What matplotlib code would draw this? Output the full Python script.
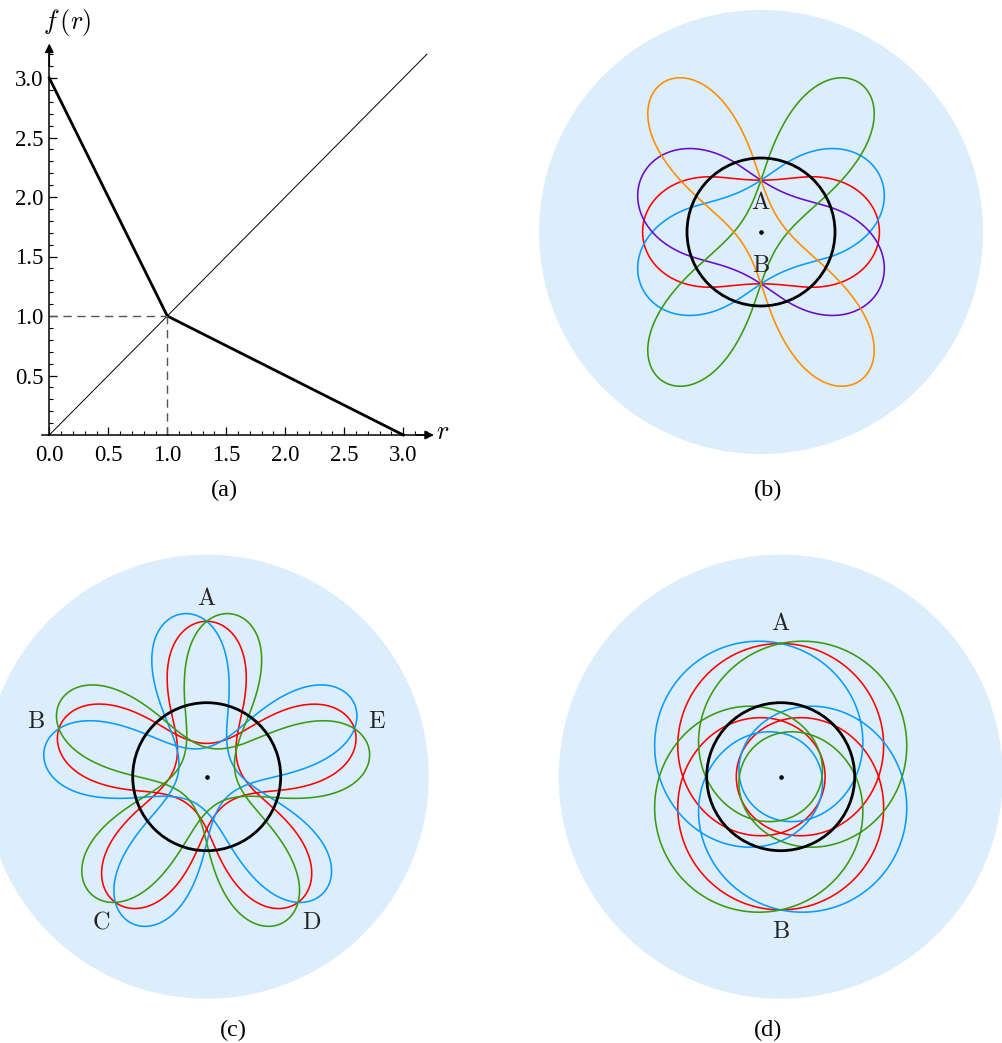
import math
import matplotlib
matplotlib.use("Agg")
import matplotlib.pyplot as plt
from matplotlib.patches import Circle
from matplotlib.ticker import FixedLocator

W, H, DPI = 1002, 1043, 100
plt.rcParams['mathtext.fontset'] = 'cm'

# ---------------- panel (a): the turning-radius map f(r) ----------------
f_r = [0.0, 1.0, 3.0]          # breakpoints of f
f_val = [3.0, 1.0, 0.0]        # f at the breakpoints
diag_end = 3.2                 # end of the line f(r) = r
fixed_point = 1.0              # f(1) = 1
x_major = [0.0, 0.5, 1.0, 1.5, 2.0, 2.5, 3.0]
y_major = [0.5, 1.0, 1.5, 2.0, 2.5, 3.0]
x_labels = ["0.0", "0.5", "1.0", "1.5", "2.0", "2.5", "3.0"]
y_labels = ["0.5", "1.0", "1.5", "2.0", "2.5", "3.0"]

# ---------------- ray families ----------------
# apsidal angle as a fraction (p, q) of pi, source radius on the +y axis,
# slope angles (deg) of the rays at the source, colours
disk_radius = 3.0
RED, BLUE, GREEN = '#FF0000', '#0A9BFF', '#3A9912'
ORANGE, PURPLE = '#FF8C00', '#6A0AC8'

b_apsis = (1, 2)
b_source = 0.7
b_slopes = [0.0, 33.0, -33.0, 71.0, -71.0]
b_colors = [RED, BLUE, PURPLE, GREEN, ORANGE]
b_labels = ["A", "B"]

c_apsis = (2, 5)
c_source = 2.1
c_slopes = [0.0, -39.0, 39.0]
c_colors = [RED, BLUE, GREEN]
c_labels = ["A", "B", "C", "D", "E"]

d_apsis = (3, 2)
d_source = 1.8
d_slopes = [0.0, -12.0, 12.0]
d_colors = [RED, BLUE, GREEN]
d_labels = ["A", "B"]


def f(r):
    if r <= f_r[1]:
        return f_val[0] + (f_val[1] - f_val[0]) * (r - f_r[0]) / (f_r[1] - f_r[0])
    return f_val[1] + (f_val[2] - f_val[1]) * (r - f_r[1]) / (f_r[2] - f_r[1])


def make_rho2(apsis):
    p, q = apsis
    Phi = math.pi * p / q

    def rho2(w):
        r = math.exp(w)
        r = min(max(r, 1e-9), 3.0 - 1e-9)
        h = abs(math.log(f(r) / r))
        s = 1.0 / math.cosh(math.pi * h / (2.0 * Phi))
        return s * s
    return rho2


def trace_ray(apsis, r0, slope_deg, steps_per_turn=3000):
    """Ray through (0, r0) in the medium rho(r) = r n(r); integrates
    w = ln r against the polar angle."""
    rho2 = make_rho2(apsis)
    p, q = apsis
    a = math.radians(slope_deg)
    w0 = math.log(r0)
    L2 = rho2(w0) * math.cos(a) ** 2
    eps = 1e-6

    def acc(w):
        return (rho2(w + eps) - rho2(w - eps)) / (2 * eps) / (2 * L2)

    total = 2 * math.pi * p
    n = steps_per_turn * p
    dt = total / n
    w, v = w0, -math.tan(a)
    xs, ys = [], []
    for i in range(n + 1):
        th = math.pi / 2 + i * dt
        r = math.exp(w)
        xs.append(r * math.cos(th))
        ys.append(r * math.sin(th))
        k1w, k1v = v, acc(w)
        k2w, k2v = v + 0.5 * dt * k1v, acc(w + 0.5 * dt * k1w)
        k3w, k3v = v + 0.5 * dt * k2v, acc(w + 0.5 * dt * k2w)
        k4w, k4v = v + dt * k3v, acc(w + dt * k3w)
        w += dt * (k1w + 2 * k2w + 2 * k3w + k4w) / 6
        v += dt * (k1v + 2 * k2v + 2 * k3v + k4v) / 6
    return xs, ys


fig = plt.figure(figsize=(W / DPI, H / DPI), dpi=DPI)

# ---- panel (a) ----
x0px, ux = 49.3, 118.0
y0px, uy = 435.0, 119.0
xl, xr, yb, yt = -0.3, 3.5, -0.3, 3.5
ax = fig.add_axes([(x0px + xl * ux) / W, 1 - (y0px - yb * uy) / H,
                   (xr - xl) * ux / W, (yt - yb) * uy / H])
ax.set_xlim(xl, xr)
ax.set_ylim(yb, yt)
for s in ['top', 'right']:
    ax.spines[s].set_visible(False)
ax.spines['left'].set_position(('data', 0))
ax.spines['bottom'].set_position(('data', 0))
ax.spines['left'].set_bounds(0, 3.2)
ax.spines['bottom'].set_bounds(-0.06, 3.2)
for s in ['left', 'bottom']:
    ax.spines[s].set_linewidth(1.1)
ax.annotate('', xy=(3.26, 0), xytext=(3.1, 0),
            arrowprops=dict(arrowstyle='-|>', lw=1.1, color='k', mutation_scale=13,
                            shrinkA=0, shrinkB=0))
ax.annotate('', xy=(0, 3.29), xytext=(0, 3.1),
            arrowprops=dict(arrowstyle='-|>', lw=1.1, color='k', mutation_scale=13,
                            shrinkA=0, shrinkB=0))
ax.set_xticks(x_major)
ax.set_xticklabels(x_labels)
ax.set_yticks(y_major)
ax.set_yticklabels(y_labels)
ax.xaxis.set_minor_locator(FixedLocator([i / 10 for i in range(0, 33)]))
ax.yaxis.set_minor_locator(FixedLocator([i / 10 for i in range(1, 33)]))
ax.tick_params(which='major', direction='in', length=5.5, width=0.9,
               labelsize=16.5, labelfontfamily='Liberation Serif')
ax.tick_params(which='minor', direction='in', length=3, width=0.8)
ax.tick_params(axis='x', pad=7)
ax.tick_params(axis='y', pad=4)
ax.patch.set_visible(False)

ax.plot(f_r, f_val, color='k', lw=2.0, solid_joinstyle='miter')
ax.plot([0, diag_end], [0, diag_end], color='k', lw=0.7)
ax.plot([0, fixed_point], [fixed_point, fixed_point], color='#555555', lw=1.0,
        dashes=(6, 4))
ax.plot([fixed_point, fixed_point], [0, fixed_point], color='#555555', lw=1.0,
        dashes=(6, 4))
fig.text(67 / W, 1 - 22 / H, r'$f\,(r)$', fontsize=19, ha='center', va='center')
fig.text(443 / W, 1 - 432 / H, r'$r$', fontsize=19, ha='center', va='center')


# ---- ray panels ----
UNIT = 74.0


def ray_panel(cx, cy, apsis, r0, slopes, colors, labels, label_pos):
    half = 3.05
    a = fig.add_axes([(cx - half * UNIT) / W, 1 - (cy + half * UNIT) / H,
                      2 * half * UNIT / W, 2 * half * UNIT / H])
    a.set_xlim(-half, half)
    a.set_ylim(-half, half)
    a.axis('off')
    a.add_patch(Circle((0, 0), disk_radius, facecolor='#DCEDFC', edgecolor='none',
                       zorder=0))
    for s, c in zip(slopes, colors):
        xs, ys = trace_ray(apsis, r0, s)
        a.plot(xs, ys, color=c, lw=1.15, zorder=2)
    a.add_patch(Circle((0, 0), fixed_point, facecolor='none', edgecolor='k',
                       lw=2.0, zorder=3))
    a.plot([0], [0], 'o', color='k', ms=2.3, zorder=4)
    for lab, (lx, ly) in zip(labels, label_pos):
        a.text(lx, ly, r'$\mathrm{%s}$' % lab, fontsize=17.5, ha='center',
               va='center', color='#222222', zorder=5)
    return a


ray_panel(761, 232, b_apsis, b_source, b_slopes, b_colors, b_labels,
          [(0, 0.41), (0, -0.45)])

# letters sit just outside the five image points (A on top, then counter-clockwise)
c_pos = []
for k in range(5):
    ang = math.radians(90 + 72 * k)
    c_pos.append((2.42 * math.cos(ang), 2.42 * math.sin(ang)))
ray_panel(206.7, 776.7, c_apsis, c_source, c_slopes, c_colors, c_labels,
          [c_pos[0], c_pos[1], c_pos[2], c_pos[3], c_pos[4]])

ray_panel(780.7, 776.7, d_apsis, d_source, d_slopes, d_colors, d_labels,
          [(0, 2.08), (0, -2.08)])

# captions
for txt, x, y in [("(a)", 224, 490), ("(b)", 768, 490), ("(c)", 233, 1030),
                  ("(d)", 768, 1030)]:
    fig.text(x / W, 1 - y / H, txt, fontsize=17.5, family='Liberation Serif',
             ha='center', va='center')

fig.savefig('out.png', dpi=DPI)
